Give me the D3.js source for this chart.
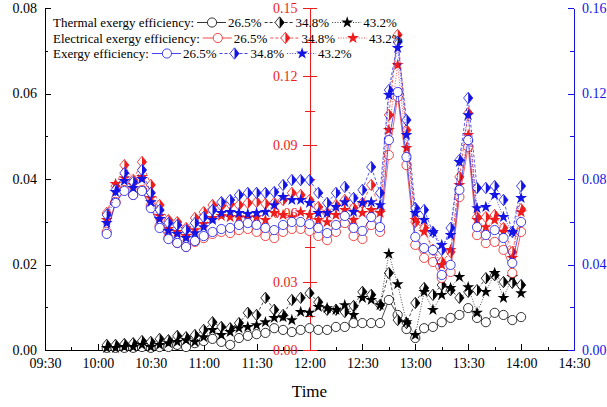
<!DOCTYPE html>
<html>
<head>
<meta charset="UTF-8">
<title>Exergy efficiency</title>
<script src="https://cdn.jsdelivr.net/npm/d3@7"></script>
<style>
body { margin: 0; background: #fff; }
svg { display: block; font-family: "Liberation Serif", "Times New Roman", serif; }
</style>
</head>
<body>
<svg id="chart" width="607" height="407"></svg>
<script>
// sampling times (every 5 min)
var times = ["10:05","10:10","10:15","10:20","10:25","10:30","10:35","10:40","10:45","10:50","10:55",
  "11:00","11:05","11:10","11:15","11:20","11:25","11:30","11:35","11:40","11:45","11:50","11:55",
  "12:00","12:05","12:10","12:15","12:20","12:25","12:30","12:35","12:40","12:45","12:50","12:55",
  "13:00","13:05","13:10","13:15","13:20","13:25","13:30","13:35","13:40","13:45","13:50","13:55","14:00"];
var xTicks = ["09:30","10:00","10:30","11:00","11:30","12:00","12:30","13:00","13:30","14:00","14:30"];
var leftTicks = [0, 0.02, 0.04, 0.06, 0.08];
var redTicks = [0, 0.03, 0.06, 0.09, 0.12, 0.15];
var rightTicks = [0, 0.04, 0.08, 0.12, 0.16];
var legendRows = ["Thermal exergy efficiency:", "Electrical exergy efficiency:", "Exergy efficiency:"];
var legendRates = ["26.5%", "34.8%", "43.2%"];

// thermal exergy efficiency (left axis)
var thermal265 = [.0005,.0005,.0005,.0005,.0007,.0005,.0007,.0007,.0012,.0007,
  .0016,.0021,.0026,.0019,.0012,.0028,.0033,.0037,.0040,.0051,
  .0047,.0042,.0047,.0051,.0047,.0047,.0054,.0054,.0063,.0063,
  .0063,.0063,.0117,.0082,.0049,.0028,.0051,.0054,.0065,.0075,
  .0082,.0098,.0075,.0065,.0087,.0082,.0070,.0077];
var thermal348 = [.0012,.0012,.0014,.0016,.0021,.0019,.0026,.0023,.0033,.0030,
  .0035,.0047,.0065,.0054,.0051,.0063,.0087,.0082,.0122,.0094,
  .0082,.0117,.0122,.0133,.0112,.0094,.0094,.0089,.0103,.0136,
  .0129,.0105,.0180,.0070,.0063,.0110,.0145,.0129,.0152,.0140,
  .0122,.0136,.0140,.0168,.0175,.0159,.0157,.0152];
var thermal432 = [.0005,.0005,.0007,.0007,.0012,.0007,.0012,.0016,.0019,.0023,
  .0019,.0030,.0047,.0035,.0042,.0051,.0054,.0058,.0065,.0075,
  .0077,.0070,.0089,.0087,.0101,.0098,.0094,.0105,.0082,.0122,
  .0117,.0105,.0225,.0154,.0065,.0035,.0136,.0094,.0129,.0145,
  .0171,.0147,.0087,.0136,.0180,.0122,.0171,.0133];

// electrical exergy efficiency (red axis)
var electrical265 = [.0518,.0649,.0702,.0680,.0702,.0632,.0544,.0491,.0469,.0452,
  .0474,.0491,.0509,.0518,.0513,.0526,.0531,.0518,.0500,.0491,
  .0518,.0531,.0531,.0522,.0500,.0482,.0518,.0557,.0500,.0487,
  .0548,.0518,.0855,.1110,.0811,.0461,.0404,.0386,.0316,.0342,
  .0671,.0890,.0504,.0469,.0474,.0439,.0338,.0518];
var electrical348 = [.0601,.0719,.0811,.0746,.0825,.0724,.0636,.0570,.0561,.0535,
  .0579,.0605,.0636,.0632,.0640,.0636,.0645,.0649,.0641,.0645,
  .0658,.0689,.0680,.0658,.0627,.0601,.0636,.0658,.0623,.0645,
  .0724,.0614,.1031,.1382,.0965,.0561,.0535,.0439,.0386,.0430,
  .0759,.1039,.0583,.0583,.0592,.0535,.0430,.0618];
var electrical432 = [.0570,.0728,.0754,.0724,.0759,.0667,.0588,.0531,.0518,.0500,
  .0526,.0553,.0579,.0588,.0583,.0583,.0579,.0583,.0570,.0601,
  .0592,.0583,.0605,.0592,.0570,.0561,.0592,.0614,.0570,.0601,
  .0614,.0601,.0965,.1250,.0886,.0570,.0518,.0439,.0373,.0439,
  .0724,.0943,.0570,.0539,.0570,.0518,.0404,.0605];

// exergy efficiency (right axis)
var exergy265 = [.0543,.0688,.0744,.0725,.0744,.0664,.0571,.0519,.0501,.0482,
  .0510,.0533,.0552,.0566,.0571,.0585,.0594,.0585,.0571,.0561,
  .0585,.0599,.0599,.0589,.0571,.0547,.0585,.0627,.0571,.0557,
  .0622,.0575,.0982,.1207,.0903,.0529,.0477,.0468,.0351,.0398,
  .0749,.0982,.0575,.0538,.0561,.0524,.0407,.0599];
var exergy348 = [.0632,.0749,.0828,.0786,.0842,.0735,.0655,.0594,.0585,.0561,
  .0594,.0622,.0655,.0692,.0702,.0725,.0735,.0735,.0735,.0739,
  .0772,.0795,.0795,.0795,.0735,.0688,.0735,.0763,.0711,.0749,
  .0856,.0735,.1216,.1441,.1076,.0664,.0655,.0552,.0468,.0571,
  .0889,.1179,.0758,.0758,.0767,.0702,.0552,.0767];
var exergy432 = [.0594,.0739,.0791,.0758,.0800,.0692,.0613,.0557,.0543,.0524,
  .0547,.0575,.0608,.0641,.0646,.0641,.0636,.0641,.0646,.0678,
  .0716,.0702,.0702,.0688,.0641,.0641,.0669,.0692,.0646,.0688,
  .0692,.0678,.1193,.1413,.1006,.0641,.0608,.0552,.0491,.0538,
  .0880,.1099,.0664,.0669,.0725,.0622,.0552,.0711];

var BLACK = "#000", RED = "#ee1c1c", BLUE = "#1414e6";
var L = 45, R = 574, T = 8, B = 350;
var parse = d3.timeParse("%H:%M");
var svg = d3.select("#chart");

var x = d3.scaleTime().domain([parse(xTicks[0]), parse(xTicks[xTicks.length - 1])]).range([L, R]);
var yL = d3.scaleLinear().domain([0, 0.08]).range([B, T]);
var yR = d3.scaleLinear().domain([0, 0.15]).range([B, T]);
var yB = d3.scaleLinear().domain([0, 0.16]).range([B, T]);
var redX = x(parse("12:00"));
var fmt = d3.format(".2f");

function styleAxis(g, color) {
  g.attr("font-size", 14).attr("font-family", "Liberation Serif, Times New Roman, serif")
    .attr("color", color).attr("shape-rendering", "crispEdges");
  g.selectAll("text").attr("shape-rendering", null);
}

// bottom axis
svg.append("g").attr("transform", "translate(0," + B + ")")
  .call(d3.axisBottom(x).ticks(d3.timeMinute.every(15)).tickFormat("").tickSizeInner(-3).tickSizeOuter(0))
  .call(styleAxis, BLACK);
svg.append("g").attr("transform", "translate(0," + B + ")")
  .call(d3.axisBottom(x).tickValues(xTicks.map(parse)).tickFormat(d3.timeFormat("%H:%M"))
    .tickSizeInner(-6).tickSizeOuter(0).tickPadding(8))
  .call(styleAxis, BLACK);

// left axis
svg.append("g").attr("transform", "translate(" + L + ",0)")
  .call(d3.axisLeft(yL).tickValues([0.01, 0.03, 0.05, 0.07]).tickFormat("").tickSizeInner(-3).tickSizeOuter(0))
  .call(styleAxis, BLACK);
svg.append("g").attr("transform", "translate(" + L + ",0)")
  .call(d3.axisLeft(yL).tickValues(leftTicks).tickFormat(fmt).tickSizeInner(-6).tickSizeOuter(0).tickPadding(8))
  .call(styleAxis, BLACK);

// right axis
svg.append("g").attr("transform", "translate(" + R + ",0)")
  .call(d3.axisRight(yB).tickValues([0.02, 0.06, 0.10, 0.14]).tickFormat("").tickSizeInner(-4).tickSizeOuter(0))
  .call(styleAxis, BLUE);
svg.append("g").attr("transform", "translate(" + R + ",0)")
  .call(d3.axisRight(yB).tickValues(rightTicks).tickFormat(fmt).tickSizeInner(-6).tickSizeOuter(0).tickPadding(8))
  .call(styleAxis, BLUE);

// red middle axis at 12:00
var gm = svg.append("g").attr("transform", "translate(" + redX + ",0)")
  .call(d3.axisLeft(yR).tickValues([0.015, 0.045, 0.075, 0.105, 0.135]).tickFormat("").tickSizeInner(5).tickSizeOuter(0))
  .call(styleAxis, RED);
gm.selectAll(".tick line").attr("x1", 5);
var gr = svg.append("g").attr("transform", "translate(" + redX + ",0)")
  .call(d3.axisLeft(yR).tickValues(redTicks).tickFormat(fmt).tickSizeInner(7).tickSizeOuter(0).tickPadding(5))
  .call(styleAxis, RED);
gr.selectAll(".tick line").attr("x1", 7);

svg.append("text").attr("x", (L + R) / 2).attr("y", 397).attr("text-anchor", "middle")
  .attr("font-size", 17).text("Time");

// markers
function marker(g, kind, color, cx, cy) {
  if (kind === "circle") {
    g.append("circle").attr("cx", cx).attr("cy", cy).attr("r", 4.6)
      .attr("fill", "#fff").attr("stroke", color).attr("stroke-width", 0.8);
  } else if (kind === "diamond") {
    var h = g.append("g").attr("transform", "translate(" + cx + "," + cy + ")");
    h.append("path").attr("d", "M0,-5.7L4.6,0L0,5.7L-4.6,0Z")
      .attr("fill", "#fff").attr("stroke", color).attr("stroke-width", 0.8);
    h.append("path").attr("d", "M0,-5.7L4.6,0L0,5.7Z").attr("fill", color);
  } else {
    g.append("path").attr("transform", "translate(" + cx + "," + cy + ")")
      .attr("d", d3.symbol(d3.symbolStar, 44)()).attr("fill", color);
  }
}

var kinds = ["circle", "diamond", "star"];
var dashes = [null, "3,2", "1,1.6"];
var groups = [
  {color: BLACK, y: yL, sets: [thermal265, thermal348, thermal432]},
  {color: RED, y: yR, sets: [electrical265, electrical348, electrical432]},
  {color: BLUE, y: yB, sets: [exergy265, exergy348, exergy432]}
];

var plot = svg.append("g");
groups.forEach(function(grp) {
  grp.sets.forEach(function(vals, k) {
    var line = d3.line()
      .x(function(d, i) { return x(parse(times[i])); })
      .y(function(d) { return grp.y(d); });
    plot.append("path").datum(vals).attr("d", line)
      .attr("fill", "none").attr("stroke", grp.color).attr("stroke-width", 0.7)
      .attr("stroke-dasharray", dashes[k]);
    var mg = plot.append("g");
    vals.forEach(function(v, i) {
      marker(mg, kinds[k], grp.color, x(parse(times[i])), grp.y(v));
    });
  });
});

// legend
var legendY = [27, 42.5, 58];
var lg = svg.append("g").attr("font-size", 13);
legendRows.forEach(function(label, r) {
  var color = groups[r].color;
  var t = lg.append("text").attr("x", 53).attr("y", legendY[r]).text(label);
  var cx = 53 + t.node().getComputedTextLength() + 1;
  var sy = legendY[r] - 4.5;
  legendRates.forEach(function(rate, k) {
    lg.append("line").attr("x1", cx + 2).attr("x2", cx + 31).attr("y1", sy).attr("y2", sy)
      .attr("stroke", color).attr("stroke-width", 0.8).attr("stroke-dasharray", dashes[k]);
    marker(lg, kinds[k], color, cx + 17, sy);
    var tt = lg.append("text").attr("x", cx + 33).attr("y", legendY[r]).text(rate);
    cx += 33 + tt.node().getComputedTextLength() + 1;
  });
});
</script>
</body>
</html>
